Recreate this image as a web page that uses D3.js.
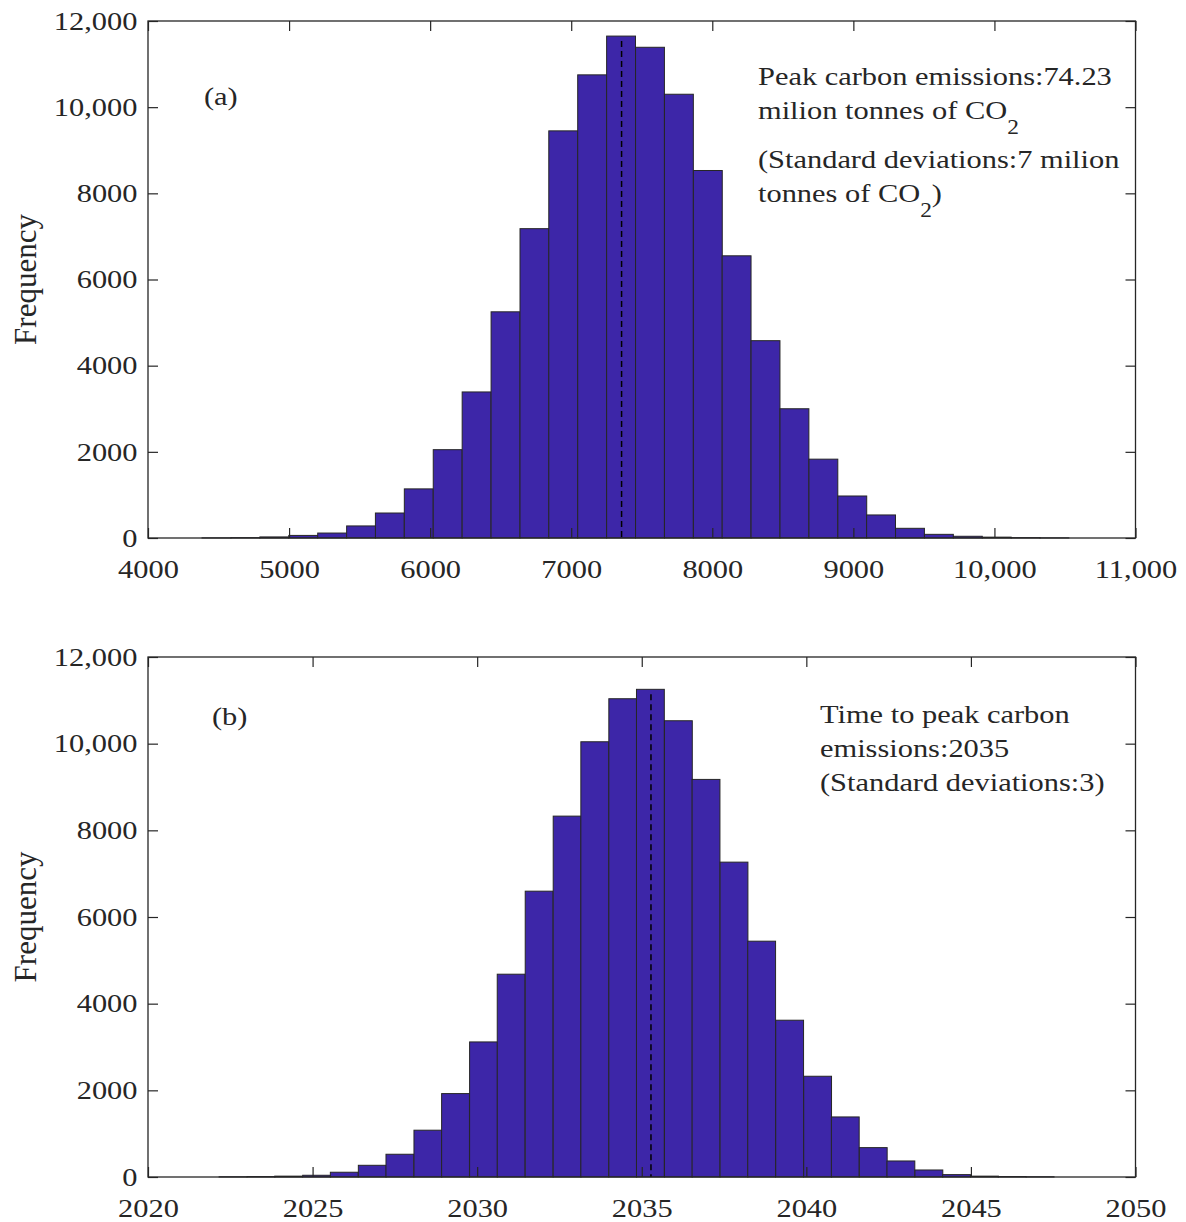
<!DOCTYPE html>
<html>
<head>
<meta charset="utf-8">
<script src="https://cdn.jsdelivr.net/npm/d3@7"></script>
<style>
  body { margin: 0; background: #fff; }
  svg text { font-family: "Liberation Serif", "Times New Roman", serif; fill: #262626; }
</style>
</head>
<body>
<svg id="chart" width="1186" height="1222"></svg>
<script>
// ---- data ----
var emisEdges = [4383, 4588, 4793, 4998, 5203, 5408, 5612, 5817, 6022, 6227,
                 6432, 6637, 6841, 7046, 7251, 7456, 7661, 7866, 8070, 8275,
                 8480, 8685, 8890, 9094, 9299, 9504, 9709, 9914, 10119, 10323];
var emisWidth = 204.7;
var emisCounts = [3, 8, 25, 60, 115, 280, 580, 1140, 2050, 3390,
                  5250, 7180, 9450, 10750, 11650, 11390, 10300, 8530, 6550, 4580,
                  3000, 1830, 975, 535, 225, 85, 40, 20, 8, 3];
var emisMean = 7357;
var emisXTicks = [4000, 5000, 6000, 7000, 8000, 9000, 10000, 11000];

var yearEdges = [2022.16, 2023.01, 2023.85, 2024.70, 2025.54, 2026.39, 2027.23, 2028.08, 2028.92, 2029.77,
                 2030.61, 2031.46, 2032.31, 2033.15, 2034.00, 2034.84, 2035.69, 2036.53, 2037.38, 2038.22,
                 2039.07, 2039.92, 2040.76, 2041.61, 2042.45, 2043.30, 2044.14, 2044.99, 2045.83, 2046.68];
var yearWidth = 0.8454;
var yearCounts = [5, 10, 20, 40, 110, 270, 525, 1080, 1925, 3117,
                  4680, 6596, 8328, 10044, 11037, 11254, 10529, 9175, 7266, 5442,
                  3618, 2325, 1386, 678, 370, 162, 55, 20, 10, 5];
var yearMean = 2035.28;
var yearXTicks = [2020, 2025, 2030, 2035, 2040, 2045, 2050];

var yTicks = [0, 2000, 4000, 6000, 8000, 10000, 12000];

var textA = [
  [{t: "Peak carbon emissions:74.23"}],
  [{t: "milion tonnes of CO"}, {t: "2", sub: true}],
  [{t: "(Standard deviations:7 milion"}],
  [{t: "tonnes of CO"}, {t: "2", sub: true}, {t: ")"}]
];
var textB = [
  [{t: "Time to peak carbon"}],
  [{t: "emissions:2035"}],
  [{t: "(Standard deviations:3)"}]
];

var svg = d3.select("#chart");
var SX = 1.17;   // the figure's lettering is wide
var fmt = function (d) { return d >= 10000 ? d3.format(",")(d) : String(d); };

function panel(o) {
  var x = d3.scaleLinear().domain(o.xDomain).range([148, 1135.5]);
  var y = d3.scaleLinear().domain([0, 12000]).range([o.bottom, o.top]);
  var g = svg.append("g");

  g.selectAll("rect.bar")
    .data(o.counts)
    .enter().append("rect")
    .attr("class", "bar")
    .attr("x", function (d, i) { return x(o.edges[i]); })
    .attr("width", function (d, i) { return x(o.edges[i] + o.width) - x(o.edges[i]); })
    .attr("y", function (d) { return y(d); })
    .attr("height", function (d) { return y(0) - y(d); })
    .attr("fill", "#3d26a8")
    .attr("stroke", "#262626")
    .attr("stroke-width", 1);

  // dashed mean line up to the bar it sits in
  var k = d3.bisectRight(o.edges, o.mean) - 1;
  g.append("line")
    .attr("x1", x(o.mean)).attr("x2", x(o.mean))
    .attr("y1", y(o.counts[k]) + 5).attr("y2", y(0))
    .attr("stroke", "#000").attr("stroke-width", 1.5)
    .attr("stroke-dasharray", "6,4");

  // axes with inward ticks, mirrored on top/right
  var ax = [
    [d3.axisBottom(x).tickValues(o.xTicks).tickFormat(fmt).tickSize(-10).tickPadding(22), "translate(0," + o.bottom + ")", true],
    [d3.axisTop(x).tickValues(o.xTicks).tickSize(-10), "translate(0," + o.top + ")", false],
    [d3.axisLeft(y).tickValues(yTicks).tickFormat(fmt).tickSize(-10).tickPadding(9), "translate(148,0)", true],
    [d3.axisRight(y).tickValues(yTicks).tickSize(-10), "translate(1135.5,0)", false]
  ];
  ax.forEach(function (a) {
    var ag = g.append("g").attr("transform", a[1]).call(a[0]);
    ag.select(".domain").remove();
    ag.selectAll(".tick line").attr("stroke", "#262626").attr("stroke-width", 1.2);
    if (a[2]) {
      ag.selectAll(".tick text")
        .attr("font-size", 26)
        .attr("font-family", "Liberation Serif, serif")
        .attr("fill", "#262626")
        .attr("transform", "scale(" + SX + ",1)");
    } else {
      ag.selectAll(".tick text").remove();
    }
  });

  g.append("rect")
    .attr("x", 148).attr("y", o.top)
    .attr("width", 1135.5 - 148).attr("height", o.bottom - o.top)
    .attr("fill", "none").attr("stroke", "#262626").attr("stroke-width", 1.3);

  g.append("text")
    .attr("transform", "translate(36," + ((o.top + o.bottom) / 2) + ") rotate(-90)")
    .attr("text-anchor", "middle")
    .attr("font-size", 31)
    .text("Frequency");

  g.append("text")
    .attr("transform", "translate(" + o.tag[0] + "," + o.tag[1] + ") scale(" + SX + ",1)")
    .attr("font-size", 26)
    .text(o.tag[2]);

  o.note.forEach(function (line, i) {
    var t = g.append("text")
      .attr("transform", "translate(" + o.noteX + "," + o.noteY[i] + ") scale(" + SX + ",1)")
      .attr("font-size", 26);
    var down = false;
    line.forEach(function (p) {
      var s = t.append("tspan").text(p.t);
      if (p.sub) { s.attr("font-size", 20).attr("dy", 15); down = true; }
      else if (down) { s.attr("dy", -15); down = false; }
    });
  });
}

panel({
  xDomain: [4000, 11000], top: 21, bottom: 538,
  edges: emisEdges, width: emisWidth, counts: emisCounts, mean: emisMean, xTicks: emisXTicks,
  tag: [204, 105, "(a)"],
  note: textA, noteX: 758, noteY: [85, 119, 168, 202]
});

panel({
  xDomain: [2020, 2050], top: 657, bottom: 1177,
  edges: yearEdges, width: yearWidth, counts: yearCounts, mean: yearMean, xTicks: yearXTicks,
  tag: [212, 725, "(b)"],
  note: textB, noteX: 820, noteY: [723, 757, 791]
});
</script>
</body>
</html>
